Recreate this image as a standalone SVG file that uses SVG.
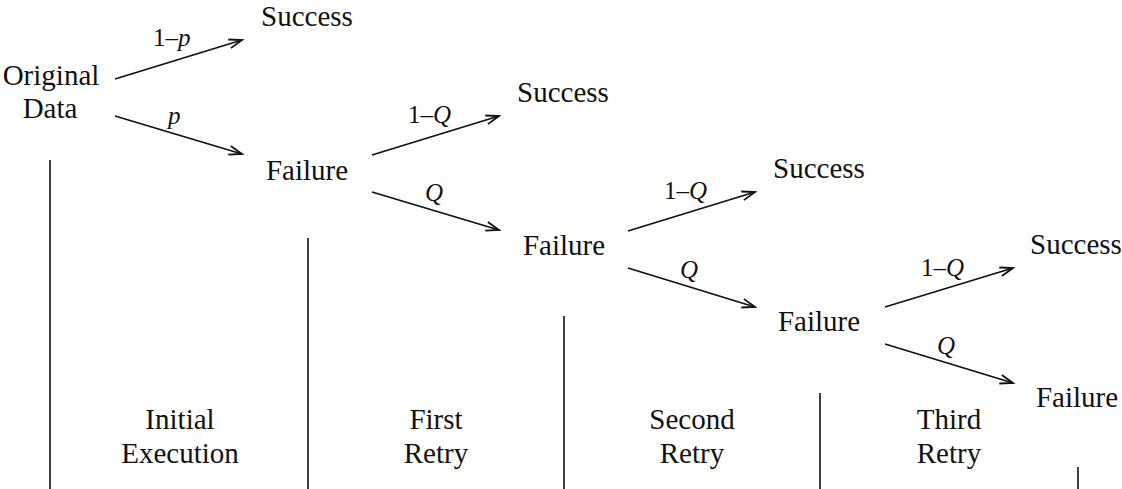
<svg xmlns="http://www.w3.org/2000/svg" width="1122" height="489" viewBox="0 0 1122 489">
  <style>
    .t { font-size: 29px; fill: #111; text-anchor: middle; }
    .lbl { font-size: 25px; fill: #111; }
    .i { font-style: italic; }
    .edge { stroke: #111; stroke-width: 1.8; fill: none; marker-end: url(#head); }
    .rule { stroke: #111; stroke-width: 1.6; }
  </style>
  <defs>
    <marker id="head" markerUnits="userSpaceOnUse" markerWidth="20" markerHeight="14" viewBox="-16 -7 20 14" refX="0" refY="0" orient="auto">
      <path d="M -13 -4.5 L 0 0 L -13 4.5" fill="none" stroke="#111" stroke-width="1.8"/>
    </marker>
  </defs>
  <rect width="1122" height="489" fill="#fff"/>

  <g font-family="'Liberation Serif', 'Times New Roman', serif">
  <!-- stage dividers -->
  <g id="dividers">
    <line class="rule" x1="50" y1="160" x2="50" y2="489"/>
    <line class="rule" x1="308" y1="238" x2="308" y2="489"/>
    <line class="rule" x1="564" y1="316" x2="564" y2="489"/>
    <line class="rule" x1="820" y1="393" x2="820" y2="489"/>
    <line class="rule" x1="1078" y1="467" x2="1078" y2="489"/>
  </g>

  <!-- stage captions -->
  <g id="stage-initial"><text class="t" x="180" y="429">Initial</text><text class="t" x="180" y="463">Execution</text></g>
  <g id="stage-first"><text class="t" x="436" y="429">First</text><text class="t" x="436" y="463">Retry</text></g>
  <g id="stage-second"><text class="t" x="692" y="429">Second</text><text class="t" x="692" y="463">Retry</text></g>
  <g id="stage-third"><text class="t" x="949" y="429">Third</text><text class="t" x="949" y="463">Retry</text></g>

  <!-- nodes -->
  <g id="original"><text class="t" x="51" y="85">Original</text><text class="t" x="50" y="118">Data</text></g>
  <g id="success-0"><text class="t" x="307" y="26">Success</text></g>
  <g id="failure-0"><text class="t" x="307" y="180">Failure</text></g>
  <g id="success-1"><text class="t" x="563" y="102">Success</text></g>
  <g id="failure-1"><text class="t" x="564" y="255">Failure</text></g>
  <g id="success-2"><text class="t" x="819" y="178">Success</text></g>
  <g id="failure-2"><text class="t" x="819" y="331">Failure</text></g>
  <g id="success-3"><text class="t" x="1076" y="254">Success</text></g>
  <g id="failure-3"><text class="t" x="1077" y="407">Failure</text></g>

  <!-- branches -->
  <g id="connectors">
    <line class="edge" x1="115" y1="79" x2="242" y2="40"/>
    <line class="edge" x1="115" y1="116" x2="242" y2="154"/>
    <line class="edge" x1="372" y1="155" x2="499" y2="116"/>
    <line class="edge" x1="372" y1="192" x2="499" y2="230"/>
    <line class="edge" x1="628" y1="231" x2="755" y2="192"/>
    <line class="edge" x1="628" y1="268" x2="755" y2="307"/>
    <line class="edge" x1="885" y1="307" x2="1013" y2="268"/>
    <line class="edge" x1="885" y1="344" x2="1013" y2="383"/>
  </g>

  <!-- branch probabilities -->
  <g id="edge-labels">
    <text class="lbl" x="153" y="46">1–<tspan class="i">p</tspan></text>
    <text class="lbl i" x="168" y="124">p</text>
    <text class="lbl" x="408" y="123">1–<tspan class="i">Q</tspan></text>
    <text class="lbl i" x="425" y="201">Q</text>
    <text class="lbl" x="664" y="199">1–<tspan class="i">Q</tspan></text>
    <text class="lbl i" x="680" y="278">Q</text>
    <text class="lbl" x="921" y="276">1–<tspan class="i">Q</tspan></text>
    <text class="lbl i" x="937" y="354">Q</text>
  </g>
  </g>
</svg>
